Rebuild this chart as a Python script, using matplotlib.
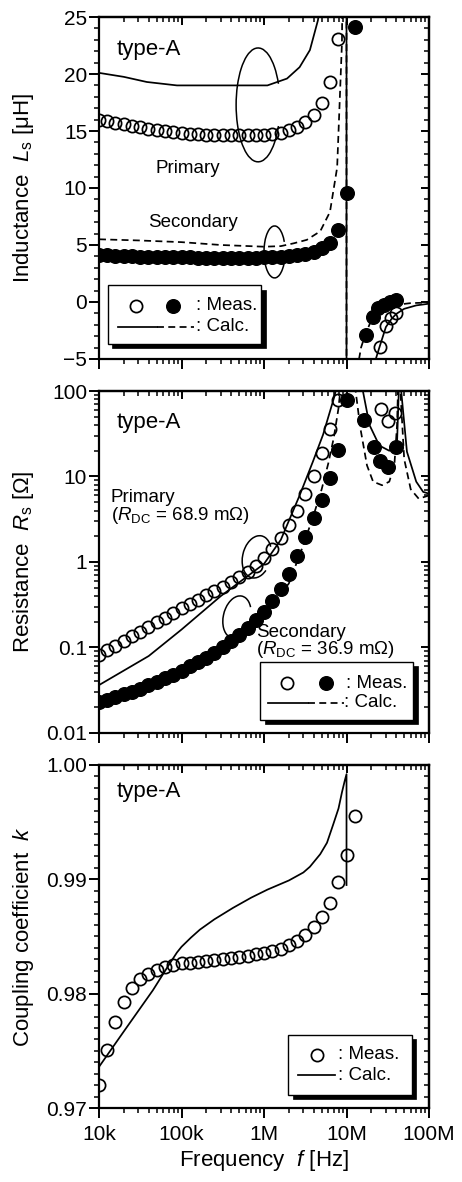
import matplotlib
matplotlib.use("Agg")
import matplotlib.pyplot as plt
from matplotlib.patches import Rectangle, Arc
from matplotlib.ticker import (LogLocator, MultipleLocator, NullFormatter,
                               FixedFormatter, FixedLocator, FormatStrFormatter)

plt.rcParams['font.family'] = ['Liberation Sans', 'DejaVu Sans']
plt.rcParams['mathtext.fontset'] = 'custom'
plt.rcParams['mathtext.rm'] = 'Liberation Sans'
plt.rcParams['mathtext.it'] = 'Liberation Sans:italic'
plt.rcParams['mathtext.bf'] = 'Liberation Sans:bold'

# ---------------------------------------------------------------- data
# measurement frequencies [kHz]
meas_khz = [10, 12.6, 15.8, 20.0, 25.1, 31.6, 39.8, 50.1, 63.1, 79.4,
            100, 126, 158, 200, 251, 316, 398, 501, 631, 794,
            1000, 1259, 1585, 1995, 2512, 3162, 3981, 5012, 6310, 7943,
            10000, 12589]

# inductance Ls [uH]
L_pri_meas = [15.96, 15.85, 15.72, 15.58, 15.45, 15.32, 15.2, 15.08, 14.98, 14.9,
              14.83, 14.77, 14.72, 14.68, 14.65, 14.63, 14.62, 14.62, 14.62, 14.63,
              14.65, 14.7, 14.85, 15.05, 15.35, 15.8, 16.4, 17.5, 19.3, 23.1]
L_sec_meas = [4.12, 4.09, 4.06, 4.03, 4.0, 3.98, 3.96, 3.95, 3.94, 3.93,
              3.92, 3.91, 3.9, 3.9, 3.9, 3.89, 3.89, 3.89, 3.89, 3.9,
              3.91, 3.93, 3.96, 4.0, 4.08, 4.2, 4.35, 4.7, 5.2, 6.3, 9.6, 24.1]
L_sec_hi_mhz = [17.2, 20.7, 24.1, 28.5, 33.6, 39.8]
L_sec_hi = [-2.9, -1.3, -0.55, -0.3, 0.0, 0.2]
L_pri_hi_mhz = [25.6, 30.3, 34.7, 39.8]
L_pri_hi = [-3.95, -2.1, -1.4, -1.0]

L_pri_calc_f = [1e4, 2e4, 3.8e4, 8.8e4, 1.1e6, 1.9e6, 2.7e6, 3.6e6, 4.5e6, 5.5e6, 7e6, 1e7,
                1e7, 1.5e7, 2e7, 2.2e7, 2.5e7, 3e7, 3.5e7, 4e7, 5e7, 7e7, 1e8]
L_pri_calc = [20.1, 19.75, 19.3, 19.0, 19.0, 19.6, 20.6, 22.1, 24.7, 29, 45, 1000,
              -1000, -15, -7, -5.3, -4.0, -2.2, -1.5, -1.05, -0.6, -0.3, -0.15]
L_sec_calc_f = [1e4, 3e4, 1e5, 3e5, 1e6, 1.6e6, 2.3e6, 3.3e6, 4.8e6, 6.3e6, 7.7e6, 8.8e6, 9.3e6, 1e7,
                1e7, 1.25e7, 1.38e7, 1.5e7, 1.7e7, 2e7, 2.5e7, 3e7, 4e7, 6e7, 1e8]
L_sec_calc = [5.5, 5.4, 5.25, 5.0, 4.85, 4.9, 5.15, 5.45, 6.2, 7.9, 11.8, 22.7, 40, 1000,
              -1000, -12, -5.5, -4.0, -2.8, -1.6, -0.9, -0.5, -0.25, -0.1, -0.05]

# resistance Rs [ohm]
R_pri_meas = [0.0813, 0.0923, 0.105, 0.119, 0.135, 0.153, 0.174, 0.197, 0.224, 0.254,
              0.288, 0.324, 0.363, 0.407, 0.457, 0.513, 0.582, 0.661, 0.759, 0.902,
              1.10, 1.41, 1.91, 2.69, 3.98, 6.17, 10.0, 18.6, 35.5, 79.4]
R_sec_meas = [0.0229, 0.0245, 0.0263, 0.0282, 0.0305, 0.0331, 0.0363, 0.0398, 0.0437, 0.0479,
              0.0537, 0.0603, 0.0676, 0.0759, 0.0871, 0.102, 0.120, 0.141, 0.170, 0.209,
              0.263, 0.347, 0.479, 0.724, 1.17, 1.95, 3.24, 5.37, 9.55, 20.4, 79.4]
R_sec_hi_mhz = [16.4, 21.8, 25.6, 31.6, 39.5]
R_sec_hi = [46, 22, 15, 13, 22]
R_pri_hi_mhz = [26.3, 31.5, 38.5]
R_pri_hi = [62, 45, 56]

R_pri_calc_f = [1e4, 4e4, 1e5, 3e5, 1e6, 1.6e6, 2.7e6, 3.9e6, 5.2e6, 7.2e6, 8e6, 9e6, 1e7,
                1.3e7, 1.58e7, 1.9e7, 2.5e7, 3.3e7, 4.1e7, 4.3e7, 4.4e7, 4.6e7, 5.4e7, 7e7, 8.5e7, 1e8]
R_pri_calc = [0.0363, 0.0794, 0.162, 0.40, 0.95, 1.82, 6.0, 14.8, 30.9, 89, 158, 400, 3000,
              400, 100, 40, 23, 20, 25, 100, 3000, 100, 19.5, 8.7, 6.6, 6.3]
R_sec_calc_f = [1e4, 2e4, 6.6e4, 1e5, 3e5, 1e6, 2e6, 3e6, 4e6, 5e6, 6e6, 7e6, 8e6, 9e6, 1e7,
                1.15e7, 1.29e7, 1.47e7, 1.77e7, 2.1e7, 2.7e7, 3.3e7, 3.8e7, 4.1e7, 4.2e7, 4.4e7,
                4.5e7, 5e7, 6e7, 7.5e7, 1e8]
R_sec_calc = [0.0204, 0.0275, 0.0479, 0.056, 0.107, 0.24, 0.56, 1.58, 3.55, 7.1, 14.1, 28.2, 63, 200, 3000,
              300, 100, 37, 13.5, 8.7, 7.9, 8.7, 13.5, 40, 100, 3000,
              100, 16, 7.1, 5.5, 6.0]

# coupling coefficient k
k_meas = [0.9720, 0.9751, 0.9775, 0.9793, 0.9805, 0.98125, 0.9817, 0.9821, 0.98235, 0.9825,
          0.98265, 0.98272, 0.98278, 0.98286, 0.98294, 0.98303, 0.98312, 0.98321, 0.9833, 0.98345,
          0.98356, 0.98375, 0.98395, 0.98425, 0.98465, 0.98515, 0.98585, 0.98670, 0.98793, 0.98977,
          0.99213, 0.99554]
k_calc_f = [1e4, 2e4, 3e4, 4.5e4, 7e4, 8.8e4, 1e5, 1.3e5, 1.67e5, 2.5e5, 4.2e5, 7e5, 1.1e6,
            2e6, 3e6, 3.6e6, 4.8e6, 5.8e6, 6.9e6, 8e6, 8.8e6, 9.5e6, 1e7, 1e7]
k_calc = [0.9736, 0.9767, 0.9785, 0.9803, 0.9825, 0.9836, 0.9841, 0.9849, 0.9856, 0.9865,
          0.9875, 0.9884, 0.9891, 0.9899, 0.9906, 0.9911, 0.9922, 0.9932, 0.9948, 0.9962,
          0.9976, 0.9986, 0.9992, 0.9895]

freq_ticks = [1e4, 1e5, 1e6, 1e7, 1e8]
freq_labels = ['10k', '100k', '1M', '10M', '100M']

# ---------------------------------------------------------------- figure
meas_f = [v * 1e3 for v in meas_khz]


def mhz(vals):
    return [v * 1e6 for v in vals]


fig = plt.figure(figsize=(4.62, 11.82), dpi=100)
L, W, H = 0.2143, 0.7143, 0.2893
ax1 = fig.add_axes([L, 0.6963, W, H])
ax2 = fig.add_axes([L, 0.3799, W, H])
ax3 = fig.add_axes([L, 0.0626, W, 0.2902])

TS = 15          # tick label size
LS = 16          # axis label size
NS = 13.5        # annotation size
OPEN = dict(ls='none', marker='o', ms=8.8, mfc='none', mec='k', mew=1.25, zorder=5)
FULL = dict(ls='none', marker='o', ms=9.8, mfc='k', mec='k', mew=1.0, zorder=5)
SOLID = dict(color='k', lw=1.25, ls='-', zorder=3)
DASH = dict(color='k', lw=1.25, ls=(0, (4, 2.5)), zorder=3)


def frame(ax, ylog=False, major=None, minor=None, fmt=None, xlabels=False):
    ax.set_xscale('log')
    ax.set_xlim(1e4, 1e8)
    if ylog:
        ax.set_yscale('log')
    for s in ax.spines.values():
        s.set_linewidth(1.6)
    ax.xaxis.set_major_locator(FixedLocator(freq_ticks))
    ax.xaxis.set_minor_locator(LogLocator(base=10, subs=range(2, 10), numticks=20))
    ax.xaxis.set_minor_formatter(NullFormatter())
    if xlabels:
        ax.xaxis.set_major_formatter(FixedFormatter(freq_labels))
    else:
        ax.xaxis.set_major_formatter(NullFormatter())
    if ylog:
        ax.yaxis.set_major_locator(LogLocator(base=10, numticks=10))
        ax.yaxis.set_minor_locator(LogLocator(base=10, subs=range(2, 10), numticks=20))
        ax.yaxis.set_minor_formatter(NullFormatter())
    else:
        ax.yaxis.set_major_locator(MultipleLocator(major))
        ax.yaxis.set_minor_locator(MultipleLocator(minor))
    if fmt is not None:
        ax.yaxis.set_major_formatter(fmt)
    ax.tick_params(which='major', direction='out', length=7, width=1.4,
                   labelsize=TS, pad=1.5, top=False, right=False)
    ax.tick_params(which='minor', direction='out', length=3.5, width=1.1,
                   top=False, right=False)
    ax.tick_params(axis='x', which='major', pad=5)

    top = ax.secondary_xaxis('top')
    top.xaxis.set_major_locator(FixedLocator(freq_ticks))
    top.xaxis.set_minor_locator(LogLocator(base=10, subs=range(2, 10), numticks=20))
    top.xaxis.set_major_formatter(NullFormatter())
    top.xaxis.set_minor_formatter(NullFormatter())
    top.tick_params(which='major', direction='in', length=6, width=1.4)
    top.tick_params(which='minor', direction='in', length=3.5, width=1.1)
    top.spines['top'].set_linewidth(1.6)

    right = ax.secondary_yaxis('right')
    if ylog:
        right.yaxis.set_major_locator(LogLocator(base=10, numticks=10))
        right.yaxis.set_minor_locator(LogLocator(base=10, subs=range(2, 10), numticks=20))
    else:
        right.yaxis.set_major_locator(MultipleLocator(major))
        right.yaxis.set_minor_locator(MultipleLocator(minor))
    right.yaxis.set_major_formatter(NullFormatter())
    right.yaxis.set_minor_formatter(NullFormatter())
    right.tick_params(which='major', direction='in', length=6, width=1.4)
    right.tick_params(which='minor', direction='in', length=3.5, width=1.1)
    right.spines['right'].set_linewidth(1.6)


def key_box(ax, x0, y0, x1, y1):
    dx, dy = 4.5 / 330, 4.5 / 342
    ax.add_patch(Rectangle((x0 + dx, y0 - dy), x1 - x0, y1 - y0, transform=ax.transAxes,
                           fc='k', ec='k', lw=0.5, zorder=8))
    ax.add_patch(Rectangle((x0, y0), x1 - x0, y1 - y0, transform=ax.transAxes,
                           fc='white', ec='k', lw=1.0, zorder=9))


def key_mark(ax, x, y, style):
    ax.plot([x], [y], transform=ax.transAxes, **{**style, 'zorder': 10})


def key_line(ax, x0, x1, y, style):
    ax.plot([x0, x1], [y, y], transform=ax.transAxes, **{**style, 'zorder': 10})


def key_text(ax, x, y, s):
    ax.text(x, y, s, transform=ax.transAxes, fontsize=NS, va='center', ha='left', zorder=10)


def note(ax, x, y, s, size=NS):
    ax.text(x, y, s, transform=ax.transAxes, fontsize=size, va='center', ha='left')


# ---------------------------------------------------------------- inductance
frame(ax1, major=5, minor=1)
ax1.set_ylim(-5, 25)
ax1.plot(L_pri_calc_f, L_pri_calc, **SOLID)
ax1.plot(L_sec_calc_f, L_sec_calc, **DASH)
ax1.plot(meas_f[:len(L_pri_meas)], L_pri_meas, **OPEN)
ax1.plot(meas_f[:len(L_sec_meas)], L_sec_meas, **FULL)
ax1.plot(mhz(L_sec_hi_mhz), L_sec_hi, **FULL)
ax1.plot(mhz(L_pri_hi_mhz), L_pri_hi, **OPEN)
ax1.set_ylabel('Inductance  $L_{\\rm s}$ [μH]', fontsize=LS)
ax1.yaxis.set_label_coords(-0.19, 0.5)
note(ax1, 0.052, 0.904, 'type-A', 16)
note(ax1, 0.17, 0.558, 'Primary')
note(ax1, 0.148, 0.40, 'Secondary')
ax1.add_patch(Arc((0.482, 0.743), 0.133, 0.333, theta1=45, theta2=315,
                  transform=ax1.transAxes, color='k', lw=1.1, zorder=6))
ax1.add_patch(Arc((0.532, 0.313), 0.064, 0.152, theta1=45, theta2=315,
                  transform=ax1.transAxes, color='k', lw=1.1, zorder=6))
key_box(ax1, 0.027, 0.044, 0.491, 0.216)
key_mark(ax1, 0.112, 0.155, OPEN)
key_mark(ax1, 0.224, 0.155, FULL)
key_text(ax1, 0.293, 0.155, ': Meas.')
key_line(ax1, 0.058, 0.176, 0.094, SOLID)
key_line(ax1, 0.176, 0.288, 0.094, DASH)
key_text(ax1, 0.293, 0.094, ': Calc.')

# ---------------------------------------------------------------- resistance
frame(ax2, ylog=True, fmt=FormatStrFormatter('%g'))
ax2.set_ylim(0.01, 100)
ax2.plot(R_pri_calc_f, R_pri_calc, **SOLID)
ax2.plot(R_sec_calc_f, R_sec_calc, **DASH)
ax2.plot(meas_f[:len(R_pri_meas)], R_pri_meas, **OPEN)
ax2.plot(meas_f[:len(R_sec_meas)], R_sec_meas, **FULL)
ax2.plot(mhz(R_sec_hi_mhz), R_sec_hi, **FULL)
ax2.plot(mhz(R_pri_hi_mhz), R_pri_hi, **OPEN)
ax2.set_ylabel('Resistance  $R_{\\rm s}$ [Ω]', fontsize=LS)
ax2.yaxis.set_label_coords(-0.19, 0.5)
note(ax2, 0.052, 0.909, 'type-A', 16)
note(ax2, 0.036, 0.690, 'Primary')
note(ax2, 0.036, 0.637, '($R_{\\rm DC}$ = 68.9 mΩ)')
note(ax2, 0.476, 0.295, 'Secondary')
note(ax2, 0.476, 0.243, '($R_{\\rm DC}$ = 36.9 mΩ)')
ax2.add_patch(Arc((0.478, 0.515), 0.085, 0.126, angle=-15, theta1=50, theta2=320,
                  transform=ax2.transAxes, color='k', lw=1.1, zorder=6))
ax2.add_patch(Arc((0.418, 0.339), 0.082, 0.126, angle=-15, theta1=50, theta2=320,
                  transform=ax2.transAxes, color='k', lw=1.1, zorder=6))
key_box(ax2, 0.488, 0.038, 0.952, 0.208)
key_mark(ax2, 0.570, 0.146, OPEN)
key_mark(ax2, 0.688, 0.146, FULL)
key_text(ax2, 0.748, 0.146, ': Meas.')
key_line(ax2, 0.512, 0.633, 0.088, SOLID)
key_line(ax2, 0.633, 0.742, 0.088, DASH)
key_text(ax2, 0.741, 0.088, ': Calc.')

# ---------------------------------------------------------------- coupling
frame(ax3, major=0.01, minor=0.001, fmt=FormatStrFormatter('%.2f'), xlabels=True)
ax3.set_ylim(0.97, 1.0)
ax3.plot(k_calc_f, k_calc, **SOLID)
ax3.plot(meas_f[:len(k_meas)], k_meas, **OPEN)
ax3.set_ylabel('Coupling coefficient  $k$', fontsize=LS)
ax3.yaxis.set_label_coords(-0.19, 0.5)
ax3.set_xlabel('Frequency  $f$ [Hz]', fontsize=LS)
ax3.xaxis.set_label_coords(0.5, -0.118)
note(ax3, 0.052, 0.924, 'type-A', 16)
key_box(ax3, 0.573, 0.038, 0.948, 0.213)
key_mark(ax3, 0.661, 0.155, OPEN)
key_text(ax3, 0.725, 0.155, ': Meas.')
key_line(ax3, 0.603, 0.715, 0.096, SOLID)
key_text(ax3, 0.725, 0.096, ': Calc.')

fig.savefig('out.png', dpi=100)
